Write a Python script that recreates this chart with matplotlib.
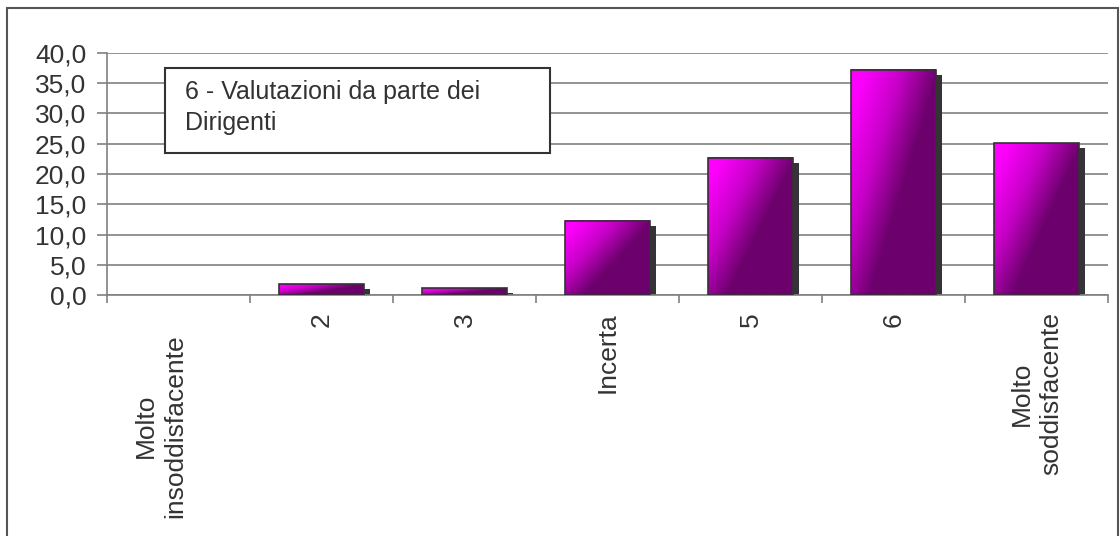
import numpy as np
import matplotlib
matplotlib.use("Agg")
import matplotlib.pyplot as plt
from matplotlib.patches import Rectangle
from matplotlib import transforms
from matplotlib.colors import LinearSegmentedColormap

plt.rcParams['font.family'] = ['Liberation Sans', 'DejaVu Sans']

categories = ["Molto\ninsoddisfacente", "2", "3", "Incerta", "5", "6", "Molto\nsoddisfacente"]
values = [0.0, 1.8, 1.1, 12.3, 22.7, 37.2, 25.1]
yticks = [0, 5, 10, 15, 20, 25, 30, 35, 40]
ytick_labels = ["0,0", "5,0", "10,0", "15,0", "20,0", "25,0", "30,0", "35,0", "40,0"]
title_text = "6 - Valutazioni da parte dei\nDirigenti"

W, H = 1120, 536
fig = plt.figure(figsize=(W / 100, H / 100), dpi=100)
ax = fig.add_axes([107 / W, 1 - 295 / H, (1108 - 107) / W, (295 - 53) / H])

n = len(categories)
xs = np.arange(n)
bw = 0.59
grid_c = "#808080"
txt_c = "#333333"

cmap = LinearSegmentedColormap.from_list("mg", ["#ff00ff", "#c800c8", "#6c006c"])
gx, gy = np.meshgrid(np.linspace(0, 1, 80), np.linspace(0, 1, 80))
grad = np.clip((gx * 1.1 + gy * 0.9) - 0.15, 0, 1)  # row 0 = top (origin upper)

shadow_tr = transforms.offset_copy(ax.transData, fig=fig, x=6, y=-5, units='dots')

for x, v in zip(xs, values):
    if v <= 0:
        continue
    x0 = x - bw / 2
    sh = Rectangle((x0, 0), bw, v, facecolor="#333338", edgecolor="none",
                   transform=shadow_tr, zorder=2)
    ax.add_patch(sh)
    ax.imshow(grad, cmap=cmap, extent=[x0, x0 + bw, 0, v], origin='upper',
              aspect='auto', zorder=3, interpolation='bilinear')
    rect = Rectangle((x0, 0), bw, v, facecolor="none", edgecolor="#333333",
                     linewidth=1.2, zorder=4)
    ax.add_patch(rect)

ax.set_xlim(-0.5, n - 0.5)
ax.set_ylim(0, 40)
ax.set_yticks(yticks)
ax.set_yticklabels(ytick_labels, fontsize=19, color=txt_c)
ax.yaxis.grid(True, color=grid_c, linewidth=1.2)
ax.set_axisbelow(True)
ax.tick_params(axis='y', direction='out', length=7, color=grid_c, width=1.2, pad=8)

ax.set_xticks(np.arange(-0.5, n, 1.0))
ax.set_xticklabels([])
ax.tick_params(axis='x', direction='out', length=6, color=grid_c, width=1.2)

for s in ["top", "right"]:
    ax.spines[s].set_visible(False)
for s in ["left", "bottom"]:
    ax.spines[s].set_color(grid_c)
    ax.spines[s].set_linewidth(1.2)

label_tr = transforms.blended_transform_factory(ax.transData, ax.transAxes)
for i, (x, lab) in enumerate(zip(xs, categories)):
    dy = -22 if i == 0 else 0
    dx = -18 if i == 0 else 0
    tr = transforms.offset_copy(label_tr, fig=fig, x=dx, y=-17 + dy, units='dots')
    ax.text(x, 0, lab, transform=tr, rotation=90, ha='center', va='top',
            multialignment='center', fontsize=19, color=txt_c, linespacing=1.3)

# title box
fig.patches.append(Rectangle((165 / W, 1 - 153 / H), (550 - 165) / W, (153 - 68) / H,
                             transform=fig.transFigure, facecolor="white",
                             edgecolor="#333333", linewidth=1.5, zorder=10))
fig.text(185 / W, 1 - 80 / H, title_text, ha='left', va='top', fontsize=18,
         color=txt_c, linespacing=1.35, zorder=11)

# outer border
fig.patches.append(Rectangle((7 / W, -0.01), (1118 - 7) / W, (H - 8) / H + 0.01,
                             transform=fig.transFigure, facecolor="none",
                             edgecolor="#555555", linewidth=1.5, zorder=12))

fig.savefig("out.png", dpi=100)
